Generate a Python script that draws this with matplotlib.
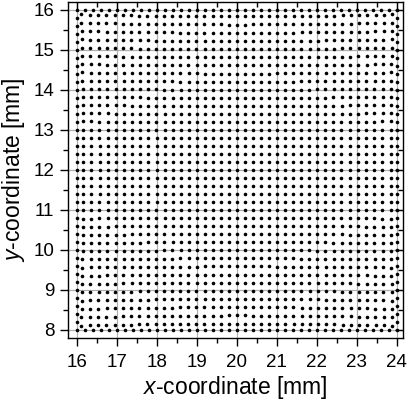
import numpy as np
import matplotlib
matplotlib.use('Agg')
import matplotlib.pyplot as plt
from matplotlib.ticker import MultipleLocator

# nominal positions of the calibration grid nodes [mm]
x_nodes = [16.0, 16.2, 16.4, 16.6, 16.8, 17.0, 17.2, 17.4, 17.6, 17.8,
           18.0, 18.2, 18.4, 18.6, 18.8, 19.0, 19.2, 19.4, 19.6, 19.8,
           20.0, 20.2, 20.4, 20.6, 20.8, 21.0, 21.2, 21.4, 21.6, 21.8,
           22.0, 22.2, 22.4, 22.6, 22.8, 23.0, 23.2, 23.4, 23.6, 23.8,
           24.0]
y_nodes = [8.0, 8.2, 8.4, 8.6, 8.8, 9.0, 9.2, 9.4, 9.6, 9.8,
           10.0, 10.2, 10.4, 10.6, 10.8, 11.0, 11.2, 11.4, 11.6, 11.8,
           12.0, 12.2, 12.4, 12.6, 12.8, 13.0, 13.2, 13.4, 13.6, 13.8,
           14.0, 14.2, 14.4, 14.6, 14.8, 15.0, 15.2, 15.4, 15.6, 15.8,
           16.0]
grid_center = (20.0, 12.0)
distortion_k = 8e-4   # radial (pincushion) coefficient

x_ticks = [16, 17, 18, 19, 20, 21, 22, 23, 24]
y_ticks = [8, 9, 10, 11, 12, 13, 14, 15, 16]

plt.rcParams['font.family'] = ['Liberation Sans', 'DejaVu Sans']
plt.rcParams['mathtext.fontset'] = 'custom'
plt.rcParams['mathtext.rm'] = 'Liberation Sans'
plt.rcParams['mathtext.it'] = 'Liberation Sans:italic'

X, Y = np.meshgrid(np.array(x_nodes), np.array(y_nodes))
dx = X - grid_center[0]
dy = Y - grid_center[1]
r2 = dx ** 2 + dy ** 2
# outer frame row/column stays straight, the interior is distorted
inner = (X > x_nodes[0]) & (X < x_nodes[-1]) & (Y > y_nodes[0]) & (Y < y_nodes[-1])
Xd = np.where(inner, X + distortion_k * r2 * dx, X)
Yd = np.where(inner, Y + distortion_k * r2 * dy, Y)

fig = plt.figure(figsize=(4.09, 4.12), dpi=100)
ax = fig.add_axes([68 / 409, 74 / 412, 335 / 409, 336 / 412])

ax.set_xlim(15.78, 24.155)
ax.set_ylim(7.8, 16.2)
ax.set_xticks(x_ticks)
ax.set_yticks(y_ticks)
ax.xaxis.set_minor_locator(MultipleLocator(0.5))
ax.yaxis.set_minor_locator(MultipleLocator(0.5))
ax.grid(True, which='major', color='#b0b0b0', linewidth=0.9, zorder=0)
ax.set_axisbelow(True)

ax.plot(Xd.ravel(), Yd.ravel(), 'o', color='black', markersize=2.6,
        markeredgewidth=0, zorder=3)

for side in ax.spines.values():
    side.set_linewidth(1.0)

ax.tick_params(which='both', top=True, right=True, width=1.0,
               labelsize=13.5)
ax.tick_params(axis='x', which='both', pad=6)
ax.tick_params(axis='y', which='both', pad=4)
ax.tick_params(which='major', length=5.8)
ax.tick_params(which='minor', length=3.6)
ax.tick_params(axis='x', which='both', direction='out')
ax.tick_params(axis='y', which='both', direction='out')
# ticks on top and right point into the box
for t in ax.xaxis.get_major_ticks() + ax.xaxis.get_minor_ticks():
    t.tick2line.set_marker(3)
for t in ax.yaxis.get_major_ticks() + ax.yaxis.get_minor_ticks():
    t.tick2line.set_marker(0)

ax.set_xlabel(r'$\mathit{x}$-coordinate [mm]', fontsize=16.5, labelpad=2)
ax.set_ylabel(r'$\mathit{y}$-coordinate [mm]', fontsize=16.5, labelpad=5)

fig.savefig('out.png', dpi=100)
